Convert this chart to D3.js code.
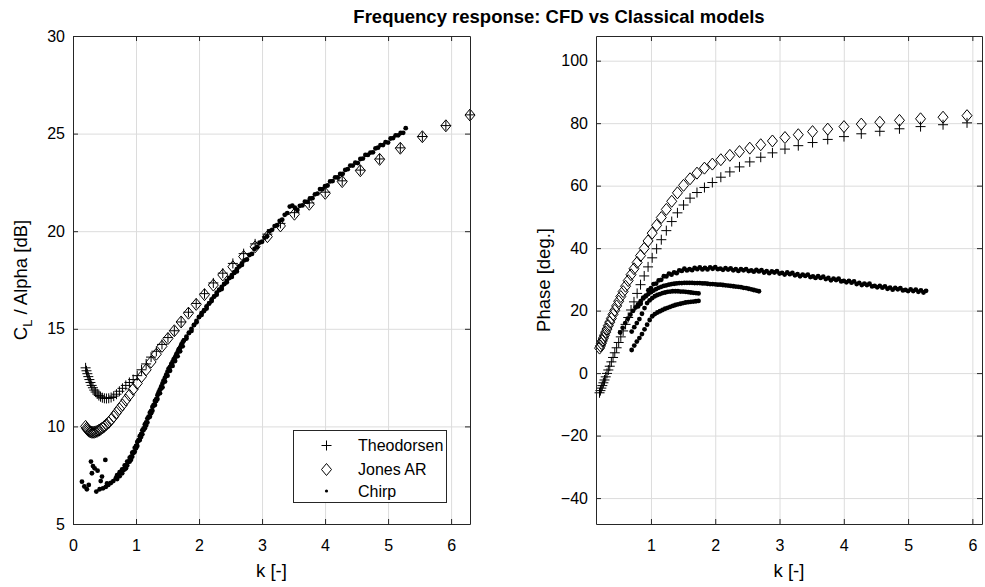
<!DOCTYPE html>
<html><head><meta charset="utf-8">
<script src="https://cdn.jsdelivr.net/npm/d3@7/dist/d3.min.js"></script>
<style>
body{margin:0;background:#fff}
svg{display:block}
text{font-family:"Liberation Sans",Arial,Helvetica,sans-serif;fill:#000}
</style></head><body>
<svg id="c" width="985" height="587"></svg>
<script>
// ---------- DATA ----------
const kModel = [0.200,0.214,0.228,0.243,0.260,0.277,0.296,0.316,0.337,0.359,0.384,0.410,0.437,0.466,0.498,0.531,0.567,0.605,0.646,0.690,0.736,0.785,0.838,0.895,0.955,1.019,1.088,1.161,1.239,1.323,1.412,1.507,1.608,1.716,1.832,1.955,2.087,2.227,2.377,2.537,2.708,2.890,3.085,3.292,3.514,3.750,4.003,4.272,4.560,4.866,5.194,5.544,5.917,6.300];
const theoMag = [13.0,12.85,12.7,12.55,12.4,12.25,12.1,11.98,11.86,11.76,11.66,11.58,11.52,11.47,11.44,11.43,11.44,11.48,11.55,11.65,11.8,11.95,12.1,12.25,12.4,12.6,12.9,13.2,13.55,13.85,14.2,14.55,14.9,15.35,15.85,16.3,16.8,17.35,17.85,18.35,18.85,19.35,19.85,20.4,20.95,21.45,22.0,22.58,23.13,23.7,24.27,24.85,25.41,25.96];
const jonesMag = [10.0,9.9,9.85,9.8,9.75,9.72,9.7,9.7,9.7,9.72,9.75,9.8,9.85,9.92,10.0,10.1,10.2,10.35,10.5,10.7,10.9,11.1,11.35,11.6,11.9,12.2,12.55,12.9,13.3,13.7,14.1,14.5,14.9,15.35,15.8,16.25,16.75,17.24,17.76,18.18,18.7,19.2,19.72,20.27,20.87,21.38,21.94,22.54,23.1,23.68,24.25,24.84,25.4,25.95];
const theoPhase = [-6.3,-5.6,-4.8,-4.0,-3.1,-2.2,-1.2,-0.1,1.0,2.2,3.6,5.0,6.5,8.1,9.8,11.6,13.5,15.6,17.8,20.2,22.8,25.5,28.3,31.1,34.0,36.9,39.8,42.7,45.6,48.5,51.3,53.8,56.0,57.8,59.4,61.0,62.7,64.4,66.0,67.6,69.1,70.5,71.7,72.8,73.8,74.8,75.7,76.6,77.4,78.2,78.9,79.5,80.1,80.7];
const jonesPhase = [8.0,8.7,9.5,10.3,11.2,12.1,13.1,14.1,15.2,16.3,17.5,18.8,20.1,21.5,23.0,24.5,26.1,27.8,29.6,31.5,33.4,35.4,37.6,39.9,42.3,44.8,47.3,49.8,52.4,55.0,57.7,60.1,62.2,64.0,65.6,66.9,68.3,69.7,70.9,72.0,73.1,74.3,75.4,76.3,77.3,78.1,78.9,79.7,80.3,80.9,81.4,81.9,82.4,82.9];

// Chirp (CFD) runs
const chirpK_AB = [0.70,0.74,0.78,0.82,0.86,0.90,0.94,0.98,1.02,1.06,1.10,1.14,1.18,1.22,1.26,1.30,1.34,1.38,1.42,1.46,1.50,1.54,1.58,1.62,1.66,1.70,1.74];
const chirpMag_A = [7.3,7.45,7.6,7.8,8.0,8.2,8.45,8.7,9.0,9.3,9.6,9.9,10.2,10.5,10.8,11.1,11.4,11.7,12.0,12.3,12.6,12.85,13.1,13.35,13.6,13.85,14.1];
const chirpPh_A = [7.4,8.8,10.1,11.2,12.5,14.0,15.5,17.0,18.2,18.9,19.4,19.8,20.2,20.6,20.9,21.2,21.5,21.8,22.0,22.2,22.4,22.6,22.7,22.8,22.9,23.0,23.1];
const chirpMag_B = [7.5,7.65,7.8,8.0,8.2,8.4,8.65,8.9,9.2,9.5,9.8,10.1,10.4,10.7,11.0,11.3,11.6,11.9,12.2,12.5,12.8,13.05,13.3,13.55,13.8,14.05,14.3];
const chirpPh_B = [13.3,14.7,16.0,17.3,19.0,20.8,22.4,23.3,24.0,24.6,25.0,25.3,25.6,25.8,26.0,26.1,26.2,26.2,26.2,26.1,26.1,26.0,25.9,25.8,25.7,25.6,25.5];
const chirpK_C = [0.52,0.56,0.60,0.64,0.68,0.72,0.76,0.80,0.84,0.88,0.92,0.96,1.00,1.04,1.08,1.12,1.16,1.20,1.24,1.28,1.32,1.36,1.40,1.44,1.48,1.52,1.56,1.60,1.64,1.68,1.72,1.76,1.80,1.84,1.88,1.92,1.96,2.00,2.04,2.08,2.12,2.16,2.20,2.24,2.28,2.32,2.36,2.40,2.44,2.48,2.52,2.56,2.60,2.64,2.68];
const chirpMag_C = [6.9,7.0,7.1,7.2,7.35,7.5,7.65,7.8,8.0,8.2,8.45,8.7,9.0,9.3,9.6,9.9,10.2,10.5,10.8,11.1,11.4,11.75,12.05,12.35,12.65,12.95,13.2,13.45,13.7,13.95,14.2,14.4,14.6,14.8,15.0,15.2,15.4,15.6,15.8,15.95,16.15,16.3,16.5,16.65,16.85,17.0,17.15,17.3,17.45,17.6,17.75,17.9,18.05,18.2,18.35];
const chirpPh_C = [13.0,14.5,16.0,17.4,18.7,19.9,21.0,22.0,23.0,23.9,24.6,25.3,25.9,26.4,26.9,27.3,27.6,27.9,28.1,28.3,28.5,28.6,28.7,28.8,28.8,28.9,28.9,28.9,28.9,28.8,28.8,28.8,28.7,28.7,28.6,28.5,28.5,28.4,28.3,28.3,28.2,28.1,28.0,27.9,27.8,27.7,27.6,27.5,27.3,27.2,27.0,26.8,26.6,26.4,26.2];
const chirpK_D = [0.80,0.84,0.88,0.92,0.96,1.00,1.04,1.08,1.12,1.16,1.20,1.24,1.28,1.32,1.36,1.40,1.44,1.48,1.52,1.56,1.60,1.64,1.68,1.72,1.76,1.80,1.84,1.88,1.92,1.96,2.00,2.04,2.08,2.12,2.16,2.20,2.24,2.28,2.32,2.36,2.40,2.44,2.48,2.52,2.56,2.60,2.64,2.68,2.72,2.76,2.80,2.84,2.88,2.92,2.96,3.00,3.04,3.08,3.12,3.16,3.20,3.24,3.28,3.32,3.36,3.40,3.44,3.48,3.52,3.56,3.60,3.64,3.68,3.72,3.76,3.80,3.84,3.88,3.92,3.96,4.00,4.04,4.08,4.12,4.16,4.20,4.24,4.28,4.32,4.36,4.40,4.44,4.48,4.52,4.56,4.60,4.64,4.68,4.72,4.76,4.80,4.84,4.88,4.92,4.96,5.00,5.04,5.08,5.12,5.16,5.20,5.24,5.28];
const chirpMag_D = [7.76,7.85,8.18,8.29,8.64,8.88,9.26,9.46,9.81,10.04,10.45,10.67,11.06,11.3,11.68,11.94,12.34,12.58,12.96,13.11,13.41,13.59,13.95,14.12,14.41,14.5,14.78,14.89,15.19,15.33,15.61,15.71,15.91,16.04,16.3,16.42,16.66,16.75,16.98,17.04,17.29,17.38,17.61,17.66,17.86,17.94,18.2,18.27,18.51,18.55,18.78,18.84,19.09,19.18,19.41,19.46,19.66,19.74,20.0,20.07,20.26,20.3,20.53,20.59,20.84,20.93,21.26,21.31,21.21,21.09,21.3,21.32,21.51,21.5,21.68,21.69,21.89,21.93,22.16,22.16,22.31,22.34,22.55,22.57,22.76,22.75,22.93,22.94,23.14,23.18,23.36,23.36,23.51,23.49,23.7,23.72,23.91,23.91,24.03,24.04,24.24,24.28,24.41,24.41,24.56,24.54,24.75,24.77,24.91,24.91,25.03,25.04,25.28];
const chirpPh_D = [21.35,22.2,24.15,24.8,26.55,27.2,28.5,28.65,29.65,29.85,31.0,30.95,31.85,31.5,32.25,32.0,32.85,32.7,33.4,32.85,33.25,32.95,33.7,33.25,33.85,33.2,33.65,33.2,33.85,33.4,33.9,33.25,33.45,33.05,33.6,33.15,33.55,32.9,33.25,32.7,33.25,32.9,33.3,32.65,32.85,32.45,33.0,32.55,32.95,32.2,32.65,32.0,32.55,32.2,32.6,31.85,32.05,31.55,32.2,31.65,32.05,31.3,31.65,31.0,31.55,31.1,31.5,30.75,30.95,30.45,31.0,30.45,30.85,30.1,30.45,29.7,30.25,29.8,30.2,29.35,29.55,29.05,29.5,28.95,29.35,28.5,28.85,28.2,28.65,28.2,28.6,27.75,27.95,27.45,27.9,27.35,27.75,27.0,27.35,26.7,27.25,26.8,27.2,26.45,26.65,26.25,26.8,26.25,26.75,26.0,26.5,25.8,26.35];
// low-frequency scatter of the chirp magnitude
const chirpK_low = [0.142,0.180,0.220,0.285,0.317,0.343,0.390,0.370,0.423,0.476,0.513,0.460,0.540,0.300,0.250,0.440];
const chirpMag_low = [7.17,6.92,6.78,8.2,7.97,7.85,7.73,6.66,6.78,6.83,8.28,7.43,7.08,7.6,7.0,7.2];

const leftXTicks = [0,1,2,3,4,5,6];
const leftYTicks = [5,10,15,20,25,30];
const rightXTicks = [1,2,3,4,5,6];
const rightYTicks = [-40,-20,0,20,40,60,80,100];
const legendLabels = ["Theodorsen","Jones AR","Chirp"];
const titleText = "Frequency response: CFD vs Classical models";

// ---------- DRAW ----------
const svg = d3.select('#c');
const AX = '#262626', GRID = '#dcdcdc';
const TICKFONT = '16px', LABFONT = '18.5px';
const plusPath = 'M-5,0H5M0,-5V5';
const diamPath = 'M0,-6L5,0L0,6L-5,0Z';

function pts(k, v){ return k.map((d,i)=>({k:d, v:v[i]})); }

function panel(o){
  const x = d3.scaleLinear().domain(o.xd).range([o.x0, o.x1]);
  const y = d3.scaleLinear().domain(o.yd).range([o.y0, o.y1]);
  const g = svg.append('g');
  const h = o.y0 - o.y1, w = o.x1 - o.x0;
  g.append('g').attr('transform',`translate(0,${o.y0})`)
    .call(d3.axisBottom(x).tickValues(o.xt).tickSize(-h).tickFormat(''))
    .call(s=>{s.select('.domain').remove(); s.selectAll('line').attr('stroke',GRID);});
  g.append('g').attr('transform',`translate(${o.x0},0)`)
    .call(d3.axisLeft(y).tickValues(o.yt).tickSize(-w).tickFormat(''))
    .call(s=>{s.select('.domain').remove(); s.selectAll('line').attr('stroke',GRID);});
  const inside = d => d.k >= o.xd[0]-1e-6 && d.k <= o.xd[1]+0.005 && d.v >= o.yd[0] && d.v <= o.yd[1];
  o.series.forEach(s=>{
    const data = s.data.filter(inside);
    if (s.type==='dot') {
      g.append('g').selectAll('circle').data(data).join('circle')
        .attr('cx',d=>x(d.k)).attr('cy',d=>y(d.v)).attr('r',2.4).attr('fill','#000');
    } else {
      g.append('g').selectAll('path').data(data).join('path')
        .attr('transform',d=>`translate(${x(d.k)},${y(d.v)})`)
        .attr('d', s.type==='plus'?plusPath:diamPath)
        .attr('fill','none').attr('stroke','#000').attr('stroke-width',1);
    }
  });
  const style = s=>{ s.selectAll('.domain,line').attr('stroke',AX); s.selectAll('text').attr('font-size',TICKFONT).attr('font-family','"Liberation Sans",Arial,sans-serif').attr('fill','#000'); };
  g.append('g').attr('transform',`translate(0,${o.y0})`)
    .call(d3.axisBottom(x).tickValues(o.xt).tickSize(-5).tickSizeOuter(0).tickPadding(15.5).tickFormat(d3.format('d'))).call(style);
  g.append('g').attr('transform',`translate(0,${o.y1})`)
    .call(d3.axisTop(x).tickValues(o.xt).tickSize(-5).tickSizeOuter(0).tickFormat('')).call(style);
  g.append('g').attr('transform',`translate(${o.x0},0)`)
    .call(d3.axisLeft(y).tickValues(o.yt).tickSize(-5).tickSizeOuter(0).tickPadding(8).tickFormat(d3.format('d'))).call(style);
  g.append('g').attr('transform',`translate(${o.x1},0)`)
    .call(d3.axisRight(y).tickValues(o.yt).tickSize(-5).tickSizeOuter(0).tickFormat('')).call(style);
  g.append('text').attr('x',(o.x0+o.x1)/2).attr('y',577).attr('text-anchor','middle')
    .attr('font-size',LABFONT).text('k [-]');
  return {x,y,g};
}

const chirpMagAll = [].concat(pts(chirpK_low,chirpMag_low), pts(chirpK_AB,chirpMag_A), pts(chirpK_AB,chirpMag_B), pts(chirpK_C,chirpMag_C), pts(chirpK_D,chirpMag_D));
const chirpPhAll = [].concat(pts(chirpK_AB,chirpPh_A), pts(chirpK_AB,chirpPh_B), pts(chirpK_C,chirpPh_C), pts(chirpK_D,chirpPh_D));

panel({xd:[0,6.3], yd:[5,30], x0:73, x1:470, y0:524, y1:36, xt:leftXTicks, yt:leftYTicks,
  series:[{type:'plus',data:pts(kModel,theoMag)},{type:'diam',data:pts(kModel,jonesMag)},{type:'dot',data:chirpMagAll}]});
panel({xd:[0.145,6.15], yd:[-48.3,107.9], x0:596, x1:982, y0:524, y1:36, xt:rightXTicks, yt:rightYTicks,
  series:[{type:'plus',data:pts(kModel,theoPhase)},{type:'diam',data:pts(kModel,jonesPhase)},{type:'dot',data:chirpPhAll}]});

const yl = svg.append('text').attr('transform','translate(27,280) rotate(-90)').attr('text-anchor','middle').attr('font-size',LABFONT);
yl.append('tspan').text('C');
yl.append('tspan').attr('font-size','13px').attr('dy','4.5').text('L');
yl.append('tspan').attr('dy','-4.5').text(' / Alpha [dB]');
svg.append('text').attr('transform','translate(550,280) rotate(-90)').attr('text-anchor','middle').attr('font-size',LABFONT).text('Phase [deg.]');

svg.append('text').attr('x',559).attr('y',23).attr('text-anchor','middle').attr('font-size','18.5px').attr('font-weight','bold').text(titleText);

const lg = svg.append('g').attr('transform','translate(293.5,430.5)');
lg.append('rect').attr('width',153).attr('height',72).attr('fill','#fff').attr('stroke',AX);
const rowsY = [15,39,60.5];
lg.append('path').attr('transform',`translate(33,${rowsY[0]})`).attr('d',plusPath).attr('fill','none').attr('stroke','#000');
lg.append('path').attr('transform',`translate(33,${rowsY[1]})`).attr('d',diamPath).attr('fill','none').attr('stroke','#000');
lg.append('circle').attr('cx',33).attr('cy',rowsY[2]).attr('r',1.6).attr('fill','#000');
legendLabels.forEach((t,i)=>lg.append('text').attr('x',64.5).attr('y',rowsY[i]+5.5).attr('font-size','16px').text(t));
</script></body></html>
